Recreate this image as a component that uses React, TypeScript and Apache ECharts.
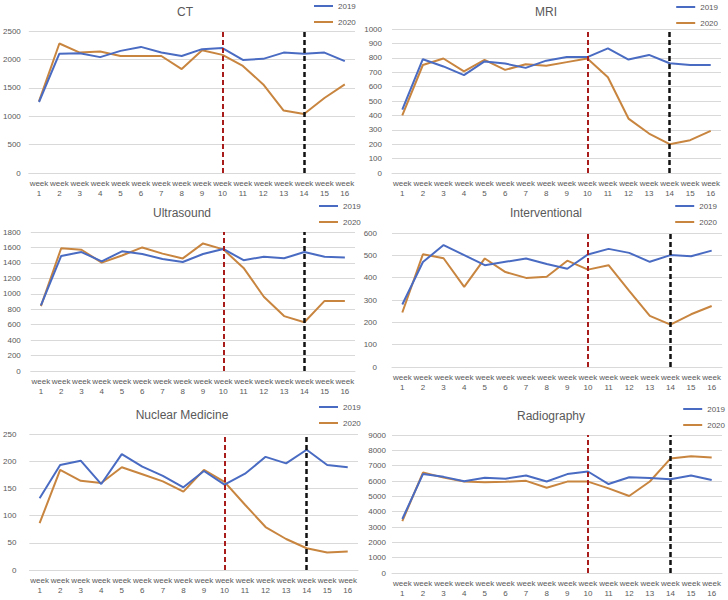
import React, { useEffect, useRef } from "react";
import * as echarts from "echarts";

const weeks = [
  "week 1", "week 2", "week 3", "week 4", "week 5", "week 6", "week 7", "week 8",
  "week 9", "week 10", "week 11", "week 12", "week 13", "week 14", "week 15", "week 16",
];
const seriesNames = ["2019", "2020"];
const markWeeks = ["week 10", "week 14"];

const ctTitle = "CT";
const ct2019 = [1250, 2100, 2110, 2040, 2150, 2220, 2120, 2060, 2180, 2200, 1990, 2010, 2120, 2100, 2120, 1970];
const ct2020 = [1260, 2280, 2120, 2140, 2060, 2060, 2060, 1830, 2160, 2080, 1885, 1560, 1100, 1040, 1320, 1560];
const ctTicks = [0, 2500, 500];

const mriTitle = "MRI";
const mri2019 = [440, 790, 740, 680, 775, 760, 730, 780, 805, 805, 865, 788, 820, 762, 750, 750];
const mri2020 = [400, 750, 795, 706, 785, 716, 755, 745, 770, 795, 665, 378, 274, 200, 228, 293];
const mriTicks = [0, 1000, 100];

const usTitle = "Ultrasound";
const us2019 = [850, 1490, 1540, 1420, 1550, 1515, 1450, 1412, 1515, 1580, 1435, 1480, 1460, 1540, 1480, 1470];
const us2020 = [840, 1590, 1570, 1403, 1495, 1600, 1520, 1458, 1652, 1575, 1335, 962, 711, 632, 908, 908];
const usTicks = [0, 1800, 200];

const irTitle = "Interventional";
const ir2019 = [280, 470, 546, 501, 456, 471, 486, 461, 440, 504, 529, 511, 471, 501, 496, 521];
const ir2020 = [244, 505, 487, 359, 486, 425, 399, 404, 476, 436, 456, 341, 229, 190, 236, 273];
const irTicks = [0, 600, 100];

const nmTitle = "Nuclear Medicine";
const nm2019 = [132, 193, 201, 158, 213, 190, 173, 152, 182, 157, 177, 208, 196, 221, 193, 189];
const nm2020 = [86, 184, 164, 160, 189, 176, 163, 144, 184, 162, 120, 79, 57, 40, 32, 34];
const nmTicks = [0, 250, 50];

const rgTitle = "Radiography";
const rg2019 = [3520, 6450, 6270, 5990, 6210, 6150, 6360, 5970, 6450, 6620, 5800, 6240, 6190, 6120, 6360, 6060];
const rg2020 = [3380, 6550, 6220, 5970, 5920, 5950, 6010, 5560, 5960, 5960, 5520, 5020, 5970, 7460, 7620, 7530];
const rgTicks = [0, 9000, 1000];

const BLUE = "#4a6bc2";
const ORANGE = "#c8853f";
const GRID = "#d9d9d9";
const TXT = "#595959";
const FONT = "Liberation Sans, Arial, sans-serif";

type Panel = {
  title: string;
  a: number[];
  b: number[];
  ticks: number[];
  grid: { left: number; top: number; width: number; height: number };
  titleX: number;
  titleY: number;
  legendPos: any;
  labelMargin: number;
};

const panels: Panel[] = [
  { title: ctTitle, a: ct2019, b: ct2020, ticks: ctTicks, grid: { left: 28, top: 31, width: 327, height: 142 }, titleX: 180, titleY: 4, legendPos: { left: 314, top: 1 }, labelMargin: 8 },
  { title: mriTitle, a: mri2019, b: mri2020, ticks: mriTicks, grid: { left: 392, top: 29, width: 329, height: 144 }, titleX: 541, titleY: 4, legendPos: { right: 10, top: 2 }, labelMargin: 10 },
  { title: usTitle, a: us2019, b: us2020, ticks: usTicks, grid: { left: 28, top: 232, width: 327, height: 139 }, titleX: 177, titleY: 205, legendPos: { left: 319, top: 201 }, labelMargin: 10 },
  { title: irTitle, a: ir2019, b: ir2020, ticks: irTicks, grid: { left: 392, top: 233, width: 330, height: 134 }, titleX: 541, titleY: 205, legendPos: { right: 11, top: 201 }, labelMargin: 15 },
  { title: nmTitle, a: nm2019, b: nm2020, ticks: nmTicks, grid: { left: 28, top: 434, width: 330, height: 136 }, titleX: 177, titleY: 407, legendPos: { left: 319, top: 402 }, labelMargin: 13 },
  { title: rgTitle, a: rg2019, b: rg2020, ticks: rgTicks, grid: { left: 392, top: 435, width: 330, height: 138 }, titleX: 546, titleY: 408, legendPos: { right: 3, top: 404 }, labelMargin: 6 },
];

export default function App() {
  const ref = useRef<HTMLDivElement>(null);
  useEffect(() => {
    document.body.style.margin = "0";
    if (!ref.current) return;
    const chart = echarts.init(ref.current, undefined, { renderer: "svg" });
    const option: any = {
      animation: false,
      backgroundColor: "#ffffff",
      textStyle: { fontFamily: FONT },
      title: panels.map((p) => ({
        text: p.title,
        left: p.titleX,
        top: p.titleY - 3,
        textAlign: "center",
        textStyle: { fontSize: 12, fontWeight: "normal", color: TXT, fontFamily: FONT },
      })),
      legend: panels.map((p) => ({
        data: seriesNames,
        orient: "vertical",
        ...p.legendPos,
        padding: 0,
        icon: "rect",
        itemWidth: 19,
        itemHeight: 2,
        itemGap: 6,
        selectedMode: false,
        textStyle: { fontSize: 8, color: TXT, fontFamily: FONT, lineHeight: 10 },
      })),
      grid: panels.map((p) => ({ ...p.grid, containLabel: false })),
      xAxis: panels.map((p, i) => ({
        type: "category",
        gridIndex: i,
        data: weeks,
        boundaryGap: true,
        axisLine: { lineStyle: { color: GRID } },
        axisTick: { show: false },
        axisLabel: {
          interval: 0,
          fontSize: 8,
          color: TXT,
          lineHeight: 10,
          margin: 5,
          fontFamily: FONT,
          formatter: (v: string) => v.replace(" ", "\n"),
        },
      })),
      yAxis: panels.map((p, i) => ({
        type: "value",
        gridIndex: i,
        min: p.ticks[0],
        max: p.ticks[1],
        interval: p.ticks[2],
        axisLine: { show: false },
        axisTick: { show: false },
        splitLine: { lineStyle: { color: GRID } },
        axisLabel: {
          fontSize: 8,
          color: TXT,
          margin: p.labelMargin,
          fontFamily: FONT,
          formatter: (v: number) => String(v),
        },
      })),
      series: panels.flatMap((p, i) => [
        {
          name: seriesNames[0],
          type: "line",
          xAxisIndex: i,
          yAxisIndex: i,
          data: p.a,
          symbol: "none",
          lineStyle: { color: BLUE, width: 2 },
          itemStyle: { color: BLUE },
          z: 3,
          markLine: {
            silent: true,
            symbol: ["none", "none"],
            label: { show: false },
            data: [
              { xAxis: markWeeks[0], lineStyle: { color: "#a81c1c", type: [5, 3], width: 2 } },
              { xAxis: markWeeks[1], lineStyle: { color: "#111111", type: [5, 3], width: 2.5 } },
            ],
          },
        },
        {
          name: seriesNames[1],
          type: "line",
          xAxisIndex: i,
          yAxisIndex: i,
          data: p.b,
          symbol: "none",
          lineStyle: { color: ORANGE, width: 2 },
          itemStyle: { color: ORANGE },
          z: 2,
        },
      ]),
    };
    chart.setOption(option);
    return () => chart.dispose();
  }, []);
  return <div ref={ref} style={{ width: 728, height: 600 }} />;
}
